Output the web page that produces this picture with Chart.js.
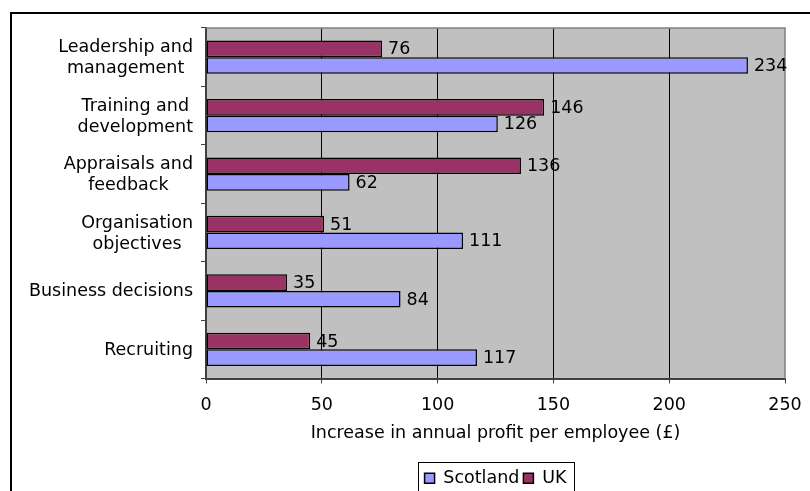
<!DOCTYPE html>
<html>
<head>
<meta charset="utf-8">
<script src="https://cdn.jsdelivr.net/npm/chart.js@4/dist/chart.umd.min.js"></script>
<style>
  html, body { margin: 0; padding: 0; background: #fff; overflow: hidden; }
  #wrap { position: relative; width: 810px; height: 491px; overflow: hidden; }
  #frame { position: absolute; left: 10px; top: 12px; width: 820px; height: 500px; border: 2px solid #000; }
  canvas { position: absolute; left: 0; top: 0; }
</style>
</head>
<body>
<div id="wrap">
  <div id="frame"></div>
  <canvas id="chart" width="810" height="497"></canvas>
</div>
<script>
// data
var categories = [
    ['Leadership and', 'management'],
    ['Training and', 'development'],
    ['Appraisals and', 'feedback'],
    ['Organisation', 'objectives'],
    ['Business decisions'],
    ['Recruiting']
];
var ukValues = [76, 146, 136, 51, 35, 45];
var scotlandValues = [234, 126, 62, 111, 84, 117];
var xTicks = [0, 50, 100, 150, 200, 250];
var xTitle = 'Increase in annual profit per employee (\u00a3)';

var FAMILY = '"DejaVu Sans", Verdana, sans-serif';
var SIZE = 17.5;
var FONT = SIZE + 'px ' + FAMILY;

// grey plot background + top/right frame
var plotArea = {
    id: 'plotArea',
    beforeDraw: function (chart) {
        var a = chart.chartArea, ctx = chart.ctx;
        ctx.save();
        ctx.fillStyle = '#C0C0C0';
        ctx.fillRect(a.left, a.top, a.right - a.left, a.bottom - a.top);
        ctx.restore();
    },
    beforeDatasetsDraw: function (chart) {
        var a = chart.chartArea, ctx = chart.ctx;
        ctx.save();
        ctx.strokeStyle = '#808080';
        ctx.lineWidth = 1.5;
        ctx.beginPath();
        ctx.moveTo(a.left, a.top);
        ctx.lineTo(a.right, a.top);
        ctx.lineTo(a.right, a.bottom);
        ctx.stroke();
        ctx.restore();
    }
};

// value labels at bar ends
var barLabels = {
    id: 'barLabels',
    afterDatasetsDraw: function (chart) {
        var ctx = chart.ctx;
        ctx.save();
        ctx.font = FONT;
        ctx.fillStyle = '#000';
        ctx.textAlign = 'left';
        ctx.textBaseline = 'middle';
        chart.data.datasets.forEach(function (ds, i) {
            chart.getDatasetMeta(i).data.forEach(function (bar, j) {
                ctx.fillText(String(ds.data[j]), bar.x + 6, bar.y + 1);
            });
        });
        ctx.restore();
    }
};

// category labels: each block centred on itself, right aligned to axis
var catLabels = {
    id: 'catLabels',
    afterDraw: function (chart) {
        var ctx = chart.ctx, y = chart.scales.y;
        var right = chart.chartArea.left - 13;
        var lh = 21;
        ctx.save();
        ctx.font = FONT;
        ctx.fillStyle = '#000';
        ctx.textAlign = 'center';
        ctx.textBaseline = 'middle';
        categories.forEach(function (lines, i) {
            var w = 0;
            lines.forEach(function (l) { w = Math.max(w, ctx.measureText(l).width); });
            var cx = right - w / 2;
            var cy = y.getPixelForValue(i) + 1;
            var y0 = cy - (lines.length - 1) * lh / 2;
            lines.forEach(function (l, k) { ctx.fillText(l, cx, y0 + k * lh); });
        });
        ctx.restore();
    }
};

// box round the legend
var legendBox = {
    id: 'legendBox',
    afterDraw: function (chart) {
        var boxes = chart.legend.legendHitBoxes;
        if (!boxes || !boxes.length) return;
        var l = Infinity, r = -Infinity, t = Infinity, b = -Infinity;
        boxes.forEach(function (h) {
            l = Math.min(l, h.left); r = Math.max(r, h.left + h.width);
            t = Math.min(t, h.top); b = Math.max(b, h.top + h.height);
        });
        var ctx = chart.ctx;
        ctx.save();
        ctx.strokeStyle = '#000';
        ctx.lineWidth = 1;
        ctx.strokeRect(Math.round(l - 7) + 0.5, Math.round(t - 8) + 0.5, Math.round(r - l + 14), Math.round(b - t + 16));
        ctx.restore();
    }
};

var ctx = document.getElementById('chart').getContext('2d');
var chart = new Chart(ctx, {
    type: 'bar',
    data: {
        labels: categories.map(function (c) { return c.join(' '); }),
        datasets: [{
            label: 'UK',
            data: ukValues,
            backgroundColor: '#993366',
            borderColor: '#000',
            borderWidth: 1.5,
            borderSkipped: false
        }, {
            label: 'Scotland',
            data: scotlandValues,
            backgroundColor: '#9999FF',
            borderColor: '#000',
            borderWidth: 1.5,
            borderSkipped: false
        }]
    },
    options: {
        indexAxis: 'y',
        responsive: false,
        animation: false,
        categoryPercentage: 0.57,
        barPercentage: 1,
        layout: { padding: { top: 28, right: 25, left: 0, bottom: 0 } },
        scales: {
            x: {
                min: 0,
                max: 250,
                afterBuildTicks: function (s) {
                    s.ticks = xTicks.map(function (v) { return { value: v }; });
                },
                afterFit: function (s) {
                    s.height = 87;
                    s.paddingLeft = 0;
                    s.paddingRight = 0;
                },
                grid: {
                    color: function (c) {
                        return (c.tick && (c.tick.value === 0 || c.tick.value === 250)) ? 'rgba(0,0,0,0)' : '#000';
                    },
                    lineWidth: 1,
                    tickColor: '#404040',
                    tickLength: 5
                },
                border: { color: '#404040', width: 2 },
                ticks: {
                    font: { family: FAMILY, size: SIZE },
                    color: '#000',
                    padding: 11,
                    maxRotation: 0
                },
                title: {
                    display: true,
                    text: xTitle,
                    font: { family: FAMILY, size: SIZE },
                    color: '#000',
                    padding: { top: 1, bottom: 22 }
                }
            },
            y: {
                afterFit: function (s) { s.width = 206; },
                grid: {
                    drawOnChartArea: false,
                    offset: true,
                    tickColor: '#404040',
                    tickLength: 5
                },
                border: { color: '#404040', width: 2 },
                ticks: { display: false }
            }
        },
        plugins: {
            legend: {
                position: 'bottom',
                fullSize: false,
                reverse: true,
                labels: {
                    font: { family: FAMILY, size: SIZE },
                    color: '#000',
                    boxWidth: 10,
                    boxHeight: 10,
                    padding: 4,
                    useBorderRadius: false
                }
            },
            tooltip: { enabled: false }
        }
    },
    plugins: [plotArea, barLabels, catLabels, legendBox]
});
</script>
</body>
</html>
